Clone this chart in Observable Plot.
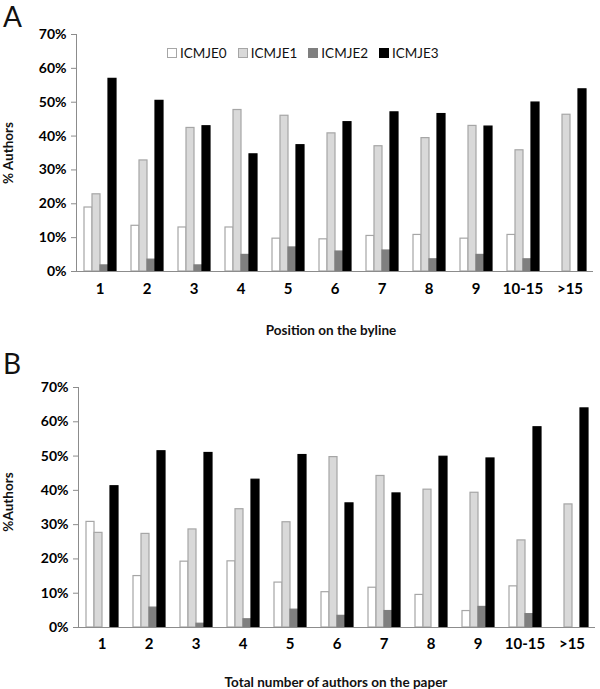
<!DOCTYPE html>
<html><head><meta charset="utf-8">
<script src="https://cdn.jsdelivr.net/npm/d3@7"></script>
<script src="https://cdn.jsdelivr.net/npm/@observablehq/plot@0.6"></script>
<style>
body{margin:0;background:#fff;font-family:Lato,"Open Sans",sans-serif;color:#111;}
#wrap{position:relative;width:600px;height:689px;overflow:hidden;background:#fff}
.panel{position:absolute;left:0}
.plab{position:absolute;left:3px;font-size:28px;line-height:28px;font-weight:400;color:#111}
.xt{position:absolute;font-size:13.5px;font-weight:700;white-space:nowrap;transform:translate(-50%,-50%);color:#111}
.yt{position:absolute;font-size:13.5px;font-weight:700;white-space:nowrap;transform:translate(-50%,-50%) rotate(-90deg);color:#111}
.legend{position:absolute;left:167px;top:45px;display:flex;align-items:center;font-size:13.5px;color:#111}
.legend .it{display:flex;align-items:center;margin-right:11px}
.legend .sw{width:8px;height:8px;border:1px solid #999;margin-right:3px;box-sizing:content-box}
</style></head><body>
<div id="wrap"></div>
<script>
const categories = ["1","2","3","4","5","6","7","8","9","10-15",">15"];
const series = ["ICMJE0","ICMJE1","ICMJE2","ICMJE3"];
const yTicks = [0,10,20,30,40,50,60,70];

// Panel A: Position on the byline (% authors)
const positionICMJE0 = [18.9,13.5,13.0,13.0,9.7,9.5,10.5,10.8,9.7,10.8,0];
const positionICMJE1 = [22.8,32.8,42.4,47.7,46.0,40.8,37.0,39.4,43.0,35.8,46.3];
const positionICMJE2 = [1.8,3.5,1.8,4.9,7.1,5.9,6.2,3.6,4.9,3.6,0];
const positionICMJE3 = [56.9,50.4,42.9,34.6,37.3,44.1,47.0,46.5,42.8,49.9,53.8];

// Panel B: Total number of authors on the paper (% authors)
const totalICMJE0 = [30.8,15.0,19.2,19.3,13.1,10.3,11.6,9.5,4.8,12.0,0];
const totalICMJE1 = [27.6,27.3,28.6,34.5,30.7,49.7,44.2,40.2,39.3,25.4,35.9];
const totalICMJE2 = [0,5.8,1.1,2.4,5.2,3.4,4.8,0,6.0,3.9,0];
const totalICMJE3 = [41.2,51.4,50.9,43.1,50.3,36.2,39.1,49.8,49.3,58.4,63.9];

const fillOf = {ICMJE0:"#ffffff", ICMJE1:"#d9d9d9", ICMJE2:"#7f7f7f", ICMJE3:"#000000"};
const strokeOf = {ICMJE0:"#a6a6a6", ICMJE1:"#a6a6a6", ICMJE2:"#7f7f7f", ICMJE3:"#000000"};

function rowsOf(lists){
  const rows = [];
  categories.forEach((c,i)=>series.forEach((s,j)=>{
    const v = lists[j][i];
    if (v > 0) rows.push({category:c, series:s, value:v});
  }));
  return rows;
}

function panel(rows, dims){
  return Plot.plot({
    width:600, height:dims.height,
    marginTop:dims.marginTop, marginBottom:dims.marginBottom,
    marginLeft:dims.marginLeft, marginRight:dims.marginRight,
    style:{fontFamily:"Lato, 'Open Sans', sans-serif", color:"#000", background:"transparent", overflow:"visible"},
    fx:{domain:categories, padding:0, label:null},
    x:{domain:series, paddingInner:0, paddingOuter:0.62, axis:null},
    y:{domain:[0,70]},
    marks:[
      ...series.map(s=>Plot.barY(rows.filter(r=>r.series===s), {
        fx:"category", x:"series", y:"value",
        fill:fillOf[s], stroke:strokeOf[s], strokeWidth:1.2
      })),
      Plot.ruleY([0], {stroke:"#8c8c8c", strokeWidth:1}),
      Plot.frame({anchor:"left", stroke:"#8c8c8c", strokeWidth:1, facetAnchor:"left"}),
      Plot.axisY({ticks:yTicks, tickFormat:d=>d+"%", tickSize:5, tickPadding:5,
        fontSize:14, fontWeight:"bold", stroke:"#8c8c8c", fill:"#000", label:null}),
      Plot.axisFx({anchor:"bottom", tickSize:0, tickPadding:dims.tickPadding,
        fontSize:15, fontWeight:"bold", fill:"#000", label:null})
    ]
  });
}

const wrap = document.getElementById("wrap");

const A = panel(rowsOf([positionICMJE0,positionICMJE1,positionICMJE2,positionICMJE3]),
  {height:345, marginTop:34, marginBottom:74, marginLeft:75, marginRight:6, tickPadding:12});
A.classList.add("panel"); A.style.top = "0px";
wrap.appendChild(A);

const B = panel(rowsOf([totalICMJE0,totalICMJE1,totalICMJE2,totalICMJE3]),
  {height:344, marginTop:42, marginBottom:62, marginLeft:74, marginRight:1, tickPadding:11});
B.classList.add("panel"); B.style.top = "345px";
wrap.appendChild(B);

function add(cls, text, left, top){
  const d = document.createElement("div");
  d.className = cls; d.textContent = text;
  d.style.left = left + "px"; d.style.top = top + "px";
  wrap.appendChild(d); return d;
}
add("plab","A",3,2);
add("plab","B",3,349);
add("yt","% Authors",8,153);
add("yt","%Authors",8,502);
add("xt","Position on the byline",331,330);
add("xt","Total number of authors on the paper",336,682);

const lg = document.createElement("div");
lg.className = "legend";
series.forEach(s=>{
  const it = document.createElement("div"); it.className = "it";
  const sw = document.createElement("span"); sw.className = "sw";
  sw.style.background = fillOf[s];
  sw.style.borderColor = s==="ICMJE0"||s==="ICMJE1" ? "#a6a6a6" : fillOf[s];
  const t = document.createElement("span"); t.textContent = s;
  it.appendChild(sw); it.appendChild(t); lg.appendChild(it);
});
wrap.appendChild(lg);
</script>
</body></html>
